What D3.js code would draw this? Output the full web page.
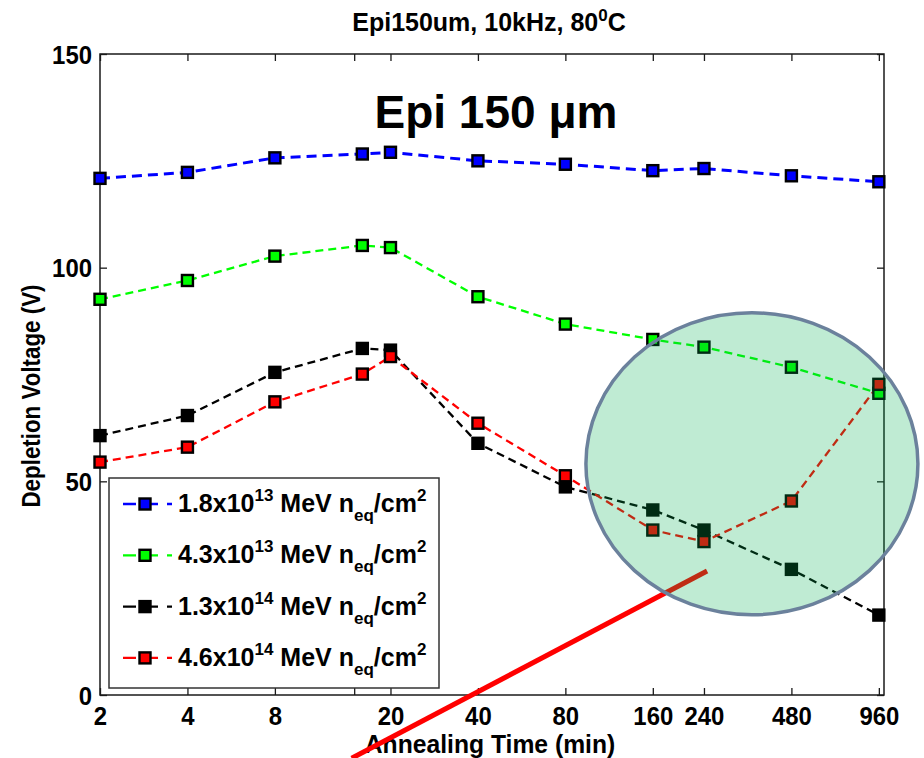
<!DOCTYPE html>
<html>
<head>
<meta charset="utf-8">
<script src="https://cdn.jsdelivr.net/npm/d3@7"></script>
<style>
  html, body { margin: 0; padding: 0; background: #fff; }
  svg { display: block; }
  .lbl { font-family: 'Liberation Sans', Arial, Helvetica, sans-serif; font-weight: bold; }
</style>
</head>
<body>
<svg id="chart" width="924" height="758"></svg>
<script>
// Annealing times (min)
const times = [2, 4, 8, 16, 20, 40, 80, 160, 240, 480, 960];

// Depletion voltage (V) per fluence
const fluence18e13 = [120.9, 122.3, 125.7, 126.6, 127.0, 125.0, 124.2, 122.7, 123.2, 121.5, 120.1];
const fluence43e13 = [92.6, 97.0, 102.7, 105.2, 104.7, 93.2, 86.8, 83.2, 81.4, 76.7, 70.6];
const fluence13e14 = [60.7, 65.4, 75.5, 81.1, 80.7, 58.9, 48.7, 43.3, 38.6, 29.4, 18.7];
const fluence46e14 = [54.5, 58.0, 68.6, 75.1, 79.2, 63.6, 51.3, 38.6, 35.9, 45.4, 72.7];

const seriesMantissa = ["1.8", "4.3", "1.3", "4.6"];
const seriesExponent = ["13", "13", "14", "14"];
const seriesColors = ["#0000ff", "#00ff00", "#000000", "#ff0000"];

// Axis ticks
const xTickValues = [2, 4, 8, 15, 20, 40, 80, 160, 240, 480, 960];
const xTickLabels = ["2", "4", "8", "", "20", "40", "80", "160", "240", "480", "960"];
const yTickValues = [0, 50, 100, 150];

const series = [fluence18e13, fluence43e13, fluence13e14, fluence46e14].map((vals, i) => ({
  values: vals.map((v, j) => ({ t: times[j], v })),
  color: seriesColors[i],
  mantissa: seriesMantissa[i],
  exponent: seriesExponent[i]
}));

const svg = d3.select("#chart");
const plot = { left: 100, right: 884, top: 54, bottom: 695 };
const squeeze = 0.92;   // condensed look for axis lettering

const x = d3.scaleLog().base(2).domain([2, 1000]).range([plot.left, plot.right]);
const y = d3.scaleLinear().domain([0, 150]).range([plot.bottom, plot.top]);

// Frame
svg.append("rect")
  .attr("x", plot.left).attr("y", plot.top)
  .attr("width", plot.right - plot.left).attr("height", plot.bottom - plot.top)
  .attr("fill", "none").attr("stroke", "#1a1a1a").attr("stroke-width", 1.5);

// Inward ticks on all four sides
const tickLen = 7;
const bottomAxis = d3.axisBottom(x).tickValues(xTickValues).tickFormat((d, i) => xTickLabels[i])
  .tickSizeInner(-tickLen).tickSizeOuter(0);
const gx = svg.append("g").attr("transform", `translate(0,${plot.bottom})`).call(bottomAxis);
gx.select(".domain").remove();
gx.selectAll("line").attr("stroke", "#1a1a1a").attr("stroke-width", 1.3);
gx.selectAll("text").attr("class", "lbl").attr("font-size", 26).attr("fill", "#000")
  .attr("y", 30).attr("dy", 0).attr("transform", `scale(${squeeze},1)`);

const topAxis = d3.axisTop(x).tickValues(xTickValues).tickFormat("")
  .tickSizeInner(-tickLen).tickSizeOuter(0);
const gt = svg.append("g").attr("transform", `translate(0,${plot.top})`).call(topAxis);
gt.select(".domain").remove();
gt.selectAll("line").attr("stroke", "#1a1a1a").attr("stroke-width", 1.3);

const leftAxis = d3.axisLeft(y).tickValues(yTickValues).tickFormat(d3.format("d"))
  .tickSizeInner(-tickLen).tickSizeOuter(0);
const gy = svg.append("g").attr("transform", `translate(${plot.left},0)`).call(leftAxis);
gy.select(".domain").remove();
gy.selectAll("line").attr("stroke", "#1a1a1a").attr("stroke-width", 1.3);
gy.selectAll("text").attr("class", "lbl").attr("font-size", 26).attr("fill", "#000")
  .attr("x", -8 / squeeze).attr("dy", "0.35em").attr("transform", `scale(${squeeze},1)`);

const rightAxis = d3.axisRight(y).tickValues(yTickValues).tickFormat("")
  .tickSizeInner(-tickLen).tickSizeOuter(0);
const gr = svg.append("g").attr("transform", `translate(${plot.right},0)`).call(rightAxis);
gr.select(".domain").remove();
gr.selectAll("line").attr("stroke", "#1a1a1a").attr("stroke-width", 1.3);

// Series lines
const line = d3.line().x(d => x(d.t)).y(d => y(d.v));
series.forEach((s, i) => {
  svg.append("path")
    .datum(s.values)
    .attr("d", line)
    .attr("fill", "none")
    .attr("stroke", s.color)
    .attr("stroke-width", i === 0 ? 3 : 2.3)
    .attr("stroke-dasharray", i === 0 ? "10,6" : "8,5");
});

// Square markers
const mk = 11;
series.forEach(s => {
  svg.append("g").selectAll("rect")
    .data(s.values)
    .join("rect")
    .attr("x", d => x(d.t) - mk / 2)
    .attr("y", d => y(d.v) - mk / 2)
    .attr("width", mk).attr("height", mk)
    .attr("fill", s.color)
    .attr("stroke", "#000").attr("stroke-width", 2.4);
});

// Legend
const legend = svg.append("g");
legend.append("rect")
  .attr("x", 109).attr("y", 478).attr("width", 330).attr("height", 210)
  .attr("fill", "#fff").attr("stroke", "#333").attr("stroke-width", 1.5);
series.forEach((s, i) => {
  const cy = 504 + i * 51.3;
  legend.append("line")
    .attr("x1", 123).attr("x2", 172).attr("y1", cy).attr("y2", cy)
    .attr("stroke", s.color).attr("stroke-width", 2.3).attr("stroke-dasharray", "13,9");
  legend.append("rect")
    .attr("x", 145 - mk / 2).attr("y", cy - mk / 2).attr("width", mk).attr("height", mk)
    .attr("fill", s.color).attr("stroke", "#000").attr("stroke-width", 2.4);
  const t = legend.append("text").attr("class", "lbl").attr("font-size", 25)
    .attr("x", 178).attr("y", cy + 8).attr("fill", "#000");
  t.append("tspan").text(`${s.mantissa}x10`);
  t.append("tspan").attr("font-size", 17).attr("dy", -11).text(s.exponent);
  t.append("tspan").attr("dy", 11).text(" MeV n");
  t.append("tspan").attr("font-size", 17).attr("dy", 9).text("eq");
  t.append("tspan").attr("dy", -9).text("/cm");
  t.append("tspan").attr("font-size", 17).attr("dy", -11).text("2");
});

// Titles
const title = svg.append("text").attr("class", "lbl").attr("font-size", 25)
  .attr("x", 489).attr("y", 31).attr("text-anchor", "middle").attr("fill", "#000");
title.append("tspan").text("Epi150um, 10kHz, 80");
title.append("tspan").attr("font-size", 17).attr("dy", -10).text("0");
title.append("tspan").attr("dy", 10).text("C");

svg.append("text").attr("class", "lbl").attr("font-size", 46)
  .attr("x", 496).attr("y", 128).attr("text-anchor", "middle").attr("fill", "#000")
  .text("Epi 150 \u03bcm");

svg.append("text").attr("class", "lbl").attr("font-size", 26)
  .attr("transform", `translate(490,753) scale(0.95,1)`)
  .attr("text-anchor", "middle").attr("fill", "#000")
  .text("Annealing Time (min)");

svg.append("text").attr("class", "lbl").attr("font-size", 26)
  .attr("transform", `translate(40,396) rotate(-90) scale(0.86,1)`)
  .attr("text-anchor", "middle").attr("fill", "#000")
  .text("Depletion Voltage (V)");

// Annotation: pointer line and highlight ellipse over the late-annealing region
const pointer = { t1: 246, v1: 29, t2: 14.7, v2: -14.8 };
svg.append("line")
  .attr("x1", x(pointer.t1)).attr("y1", y(pointer.v1))
  .attr("x2", x(pointer.t2)).attr("y2", y(pointer.v2))
  .attr("stroke", "#ff0000").attr("stroke-width", 5);

const highlight = { t: 351, v: 54.1, rx: 166, ry: 151 };
svg.append("ellipse")
  .attr("cx", x(highlight.t)).attr("cy", y(highlight.v))
  .attr("rx", highlight.rx).attr("ry", highlight.ry)
  .attr("fill", "#00b050").attr("fill-opacity", 0.25)
  .attr("stroke", "#6b819c").attr("stroke-width", 3.5);
</script>
</body>
</html>
